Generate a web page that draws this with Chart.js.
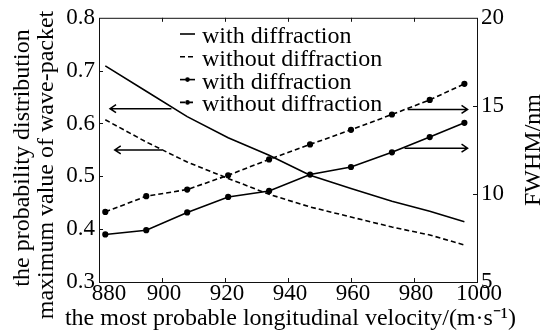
<!DOCTYPE html>
<html>
<head>
<meta charset="utf-8">
<script src="https://cdn.jsdelivr.net/npm/chart.js@4.4.1/dist/chart.umd.min.js"></script>
<style>
  body { margin: 0; background: #fff; }
</style>
</head>
<body>
<canvas id="myChart" width="542" height="331"></canvas>
<script>
// data
const velocity = [882, 895, 908, 921, 934, 947, 960, 973, 985, 996];
const peakWith = [0.709, 0.661, 0.613, 0.573, 0.540, 0.502, 0.477, 0.453, 0.434, 0.414];
const peakWithout = [0.607, 0.565, 0.527, 0.496, 0.466, 0.442, 0.423, 0.404, 0.389, 0.370];
const fwhmWith = [7.70, 7.94, 8.95, 9.83, 10.17, 11.10, 11.53, 12.36, 13.23, 14.04];
const fwhmWithout = [8.98, 9.87, 10.25, 11.06, 11.96, 12.81, 13.64, 14.51, 15.34, 16.25];

const legendLabels = ['with diffraction', 'without diffraction', 'with diffraction', 'without diffraction'];
const xTicks = [880, 900, 920, 940, 960, 980, 1000];
const leftTicks = [0.3, 0.4, 0.5, 0.6, 0.7, 0.8];
const rightTicks = [5, 10, 15, 20];

const FONT = '"Liberation Serif", "Times New Roman", serif';
Chart.defaults.font.family = FONT;
Chart.defaults.color = '#000';

const pts = arr => velocity.map((x, i) => ({ x: x, y: arr[i] }));

// arrows pointing at the axis each curve pair belongs to (data units)
const arrows = [
  { axis: 'y', x0: 903, x1: 883.5, v: 0.628 },
  { axis: 'y', x0: 900, x1: 885, v: 0.550 },
  { axis: 'y1', x0: 978, x1: 997, v: 14.8 },
  { axis: 'y1', x0: 977, x1: 997, v: 12.6 }
];

const decor = {
  id: 'decor',
  afterDatasetsDraw(chart) {
    const { ctx, chartArea: a, scales } = chart;
    ctx.save();
    ctx.strokeStyle = '#111';
    ctx.lineWidth = 1;
    ctx.strokeRect(a.left + 0.5, a.top + 0.5, a.right - a.left, a.bottom - a.top);

    // inward ticks
    ctx.beginPath();
    scales.x.ticks.forEach(t => {
      const px = Math.round(scales.x.getPixelForValue(t.value)) + 0.5;
      if (px < a.left + 2 || px > a.right - 2) return;
      ctx.moveTo(px, a.bottom); ctx.lineTo(px, a.bottom - 4);
      ctx.moveTo(px, a.top); ctx.lineTo(px, a.top + 4);
    });
    scales.y.ticks.forEach(t => {
      const py = Math.round(scales.y.getPixelForValue(t.value)) + 0.5;
      if (py < a.top + 2 || py > a.bottom - 2) return;
      ctx.moveTo(a.left, py); ctx.lineTo(a.left + 4, py);
    });
    scales.y1.ticks.forEach(t => {
      const py = Math.round(scales.y1.getPixelForValue(t.value)) + 0.5;
      if (py < a.top + 2 || py > a.bottom - 2) return;
      ctx.moveTo(a.right, py); ctx.lineTo(a.right - 4, py);
    });
    ctx.stroke();

    // x tick labels (first one nudged clear of the 0.3 label)
    ctx.font = '23px ' + FONT;
    ctx.fillStyle = '#000';
    ctx.textAlign = 'center';
    ctx.textBaseline = 'alphabetic';
    xTicks.forEach((v, i) => {
      const px = scales.x.getPixelForValue(v) + (i === 0 ? 10 : 2);
      ctx.fillText(String(v), px, 300);
    });

    // arrows
    ctx.strokeStyle = '#000';
    ctx.lineWidth = 1.5;
    arrows.forEach(ar => {
      const y = scales[ar.axis].getPixelForValue(ar.v);
      const xa = scales.x.getPixelForValue(ar.x0);
      const xb = scales.x.getPixelForValue(ar.x1);
      const d = xb > xa ? 1 : -1;
      ctx.beginPath();
      ctx.moveTo(xa, y); ctx.lineTo(xb, y);
      ctx.moveTo(xb - d * 6, y - 4); ctx.lineTo(xb, y); ctx.lineTo(xb - d * 6, y + 4);
      ctx.stroke();
    });

    // legend
    ctx.font = '24px ' + FONT;
    ctx.textAlign = 'left';
    chart.data.datasets.forEach((ds, i) => {
      const base = 43 + i * 22.8;
      const ly = base - 9;
      ctx.strokeStyle = '#000';
      ctx.lineWidth = ds.borderWidth;
      ctx.setLineDash(ds.borderDash || []);
      ctx.beginPath();
      ctx.moveTo(180, ly); ctx.lineTo(195, ly);
      ctx.stroke();
      ctx.setLineDash([]);
      if (ds.pointRadius > 0) {
        ctx.beginPath();
        ctx.arc(187.5, ly, ds.pointRadius, 0, Math.PI * 2);
        ctx.fill();
      }
      ctx.fillText(ds.label, 202, base);
    });

    // x title
    ctx.textAlign = 'center';
    ctx.fillText('the most probable longitudinal velocity/(m·s⁻¹)', 290.5, 325);

    // rotated axis titles, reading upward
    const upText = (txt, x, y) => {
      ctx.save();
      ctx.translate(x, y);
      ctx.rotate(-Math.PI / 2);
      ctx.textAlign = 'center';
      ctx.textBaseline = 'alphabetic';
      ctx.fillText(txt, 0, 0);
      ctx.restore();
    };
    upText('the probability distribution', 29, 158);
    upText('maximum value of wave-packet', 52.5, 165);
    upText('FWHM/nm', 540, 150);
    ctx.restore();
  }
};

const ctx = document.getElementById('myChart');

new Chart(ctx, {
  type: 'line',
  data: {
    datasets: [
      {
        label: legendLabels[0],
        data: pts(peakWith),
        yAxisID: 'y',
        borderColor: '#000',
        borderWidth: 1.6,
        pointRadius: 0
      },
      {
        label: legendLabels[1],
        data: pts(peakWithout),
        yAxisID: 'y',
        borderColor: '#000',
        borderWidth: 1.6,
        borderDash: [5, 3],
        pointRadius: 0
      },
      {
        label: legendLabels[2],
        data: pts(fwhmWith),
        yAxisID: 'y1',
        borderColor: '#000',
        backgroundColor: '#000',
        borderWidth: 1.6,
        pointRadius: 2.3
      },
      {
        label: legendLabels[3],
        data: pts(fwhmWithout),
        yAxisID: 'y1',
        borderColor: '#000',
        backgroundColor: '#000',
        borderWidth: 1.6,
        borderDash: [5, 3],
        pointRadius: 2.3
      }
    ]
  },
  options: {
    responsive: false,
    animation: false,
    layout: { padding: { top: 17 } },
    plugins: {
      legend: { display: false },
      tooltip: { enabled: false }
    },
    elements: { line: { tension: 0 } },
    scales: {
      x: {
        type: 'linear',
        min: 880,
        max: 1000,
        afterBuildTicks: s => { s.ticks = xTicks.map(v => ({ value: v })); },
        afterFit: s => { s.height = 49; },
        ticks: { display: false },
        grid: { display: false, drawTicks: false },
        border: { display: false }
      },
      y: {
        position: 'left',
        min: 0.3,
        max: 0.8,
        afterBuildTicks: s => { s.ticks = leftTicks.map(v => ({ value: v })); },
        afterFit: s => { s.width = 99; },
        ticks: { font: { size: 23 }, padding: 4, callback: v => v.toFixed(1) },
        grid: { display: false, drawTicks: false },
        border: { display: false }
      },
      y1: {
        position: 'right',
        min: 5,
        max: 20,
        afterBuildTicks: s => { s.ticks = rightTicks.map(v => ({ value: v })); },
        afterFit: s => { s.width = 65; },
        ticks: { font: { size: 23 }, padding: 4 },
        grid: { display: false, drawTicks: false },
        border: { display: false }
      }
    }
  },
  plugins: [decor]
});
</script>
</body>
</html>
